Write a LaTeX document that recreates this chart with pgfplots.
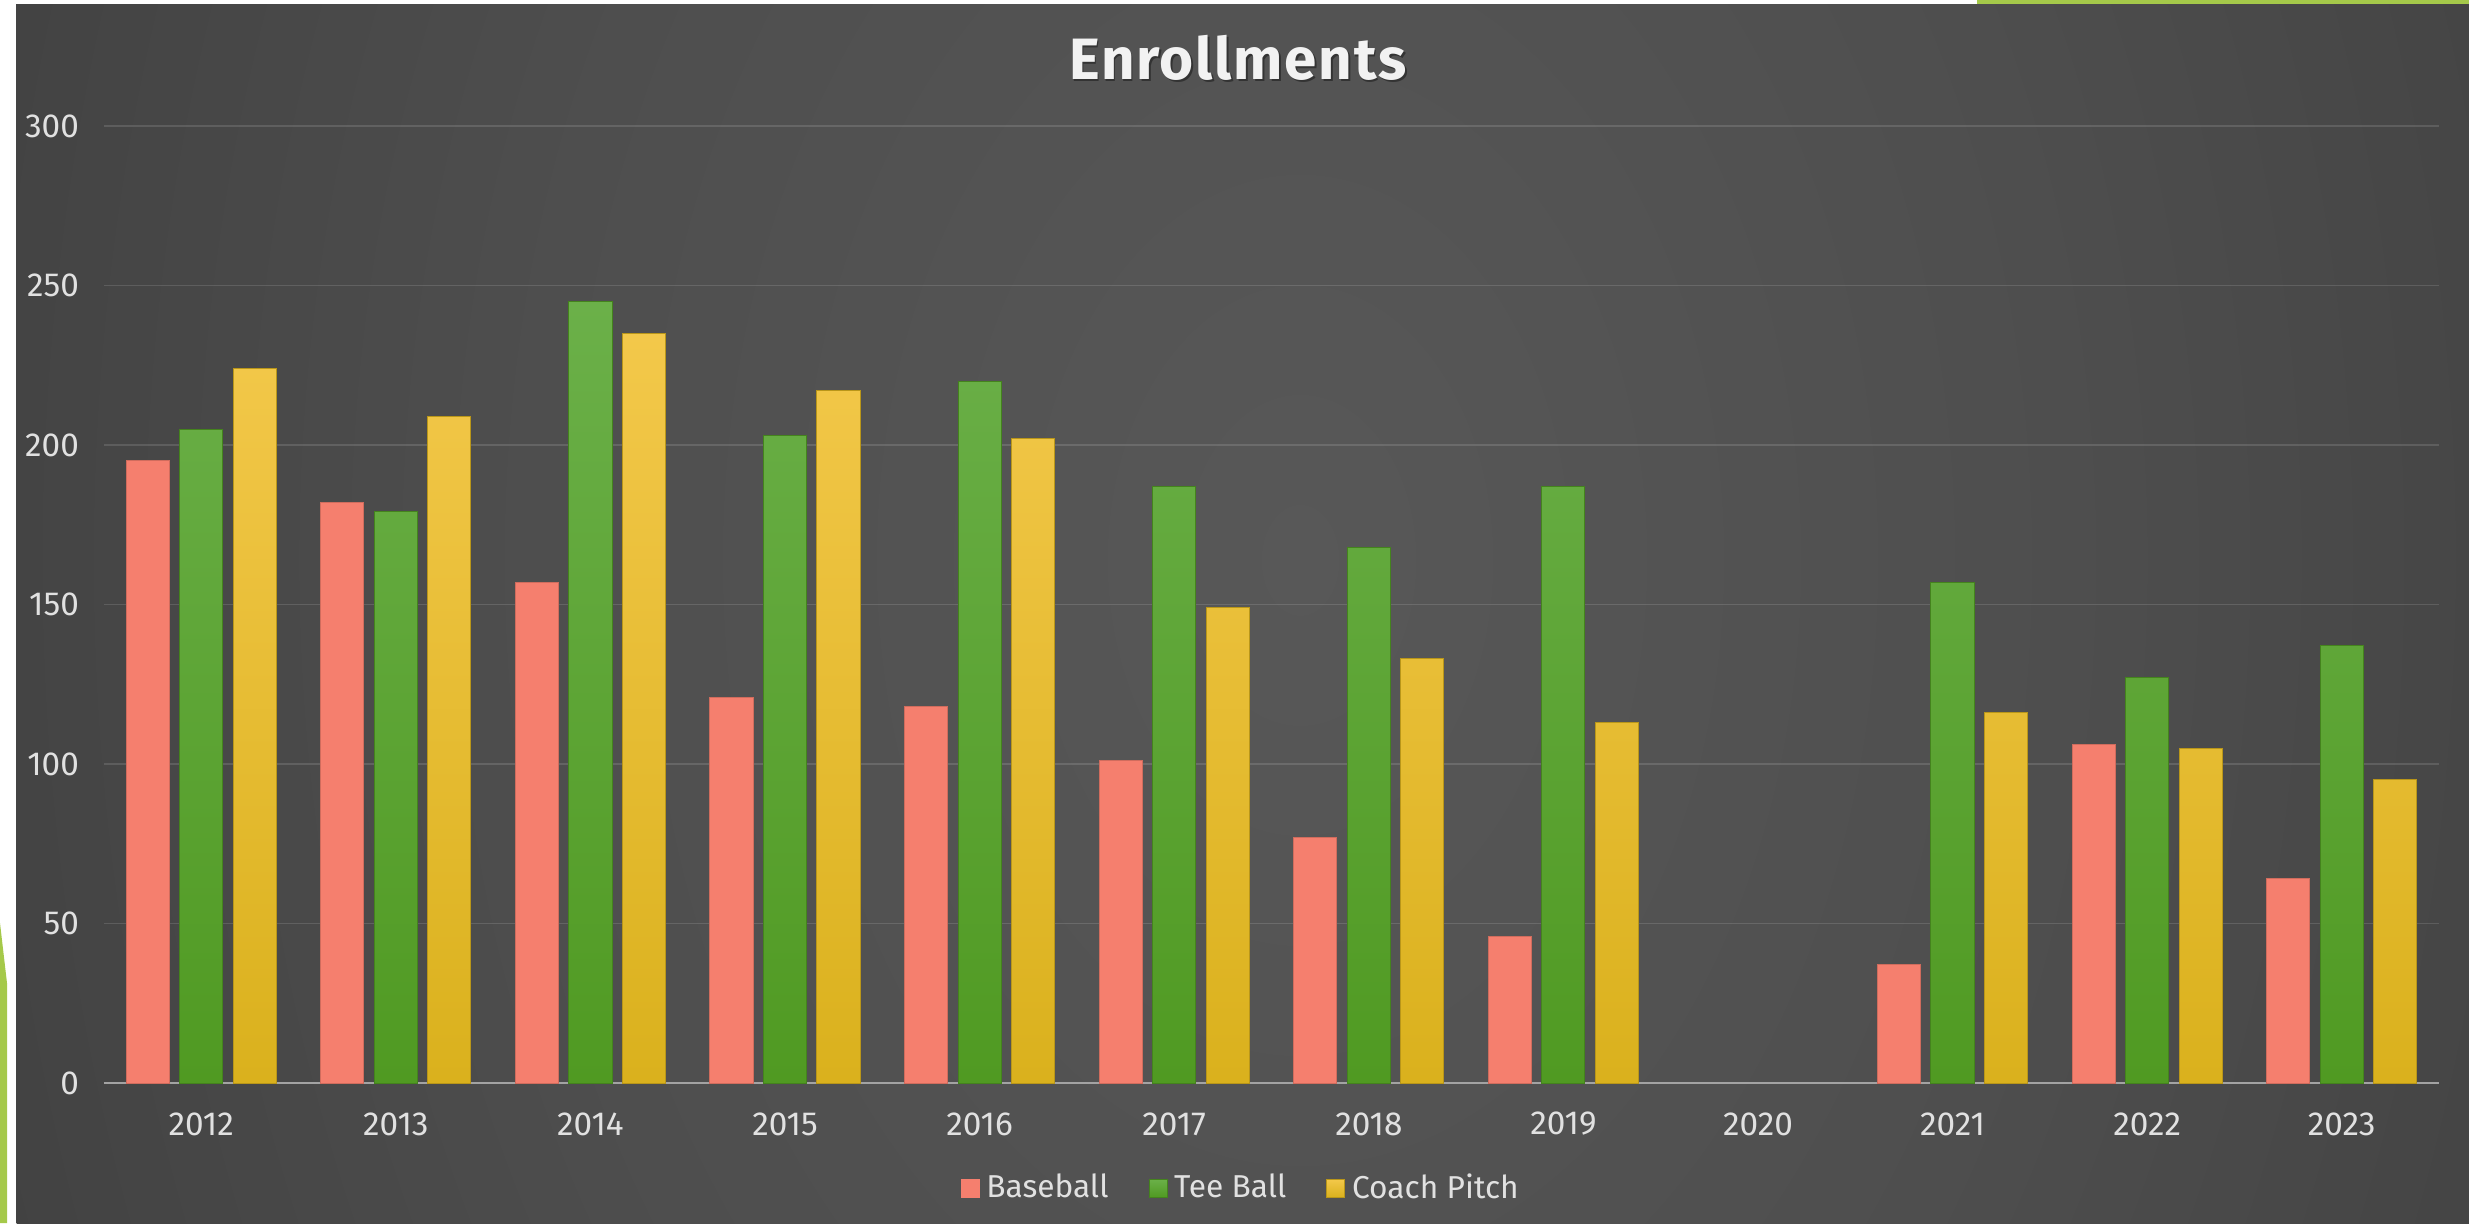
\documentclass[border=0pt]{standalone}
\usepackage{pgfplots}
\pgfplotsset{compat=1.18}
\usepackage{fontspec}
\setmainfont{Fira Sans}

% 1 px of the reference = 0.3pt
\definecolor{bgc0}{RGB}{88,88,88}
\definecolor{bgc1}{RGB}{78,78,78}
\definecolor{bgc2}{RGB}{68,68,68}
\definecolor{bgc3}{RGB}{57,57,57}
\definecolor{bgc4}{RGB}{48,48,48}
\definecolor{bgc5}{RGB}{42,42,42}
\definecolor{bgc6}{RGB}{38,38,38}
\pgfdeclareradialshading{slidebg}{\pgfpoint{0bp}{0bp}}{%
  color(0bp)=(bgc0); color(15bp)=(bgc1); color(25bp)=(bgc2);
  color(35bp)=(bgc3); color(45bp)=(bgc4); color(55bp)=(bgc5); color(71bp)=(bgc6)}
\definecolor{salmon}{RGB}{245,127,110}
\definecolor{greentop}{RGB}{107,176,73}
\definecolor{greenbot}{RGB}{80,154,34}
\definecolor{yeltop}{RGB}{243,200,74}
\definecolor{yelbot}{RGB}{218,177,29}
\definecolor{labelgray}{RGB}{225,225,225}
\definecolor{slidegreen}{RGB}{165,201,74}

\pgfplotstableread{
x baseball teeball coach
0 195 205 224
1 182 179 209
2 157 245 235
3 121 203 217
4 118 220 202
5 101 187 149
6 77  168 133
7 46  187 113
9 37  157 116
10 106 127 105
11 64  137 95
}\enroll

\begin{document}
\begin{tikzpicture}
% slide background: wide, tall ellipse, light in the middle
\begin{scope}
\clip (0,0) rectangle (740.7pt,366.9pt);
\shade[shading=slidebg] (5pt,-351.6pt) rectangle (775pt,749.4pt);
\end{scope}
\fill[white] (0,365.7pt) rectangle (740.7pt,366.9pt);
\fill[white] (0,72pt) rectangle (2.1pt,366.9pt);
\fill[slidegreen] (0,0) -- (2.1pt,0) -- (2.1pt,72pt) -- (0,90pt) -- cycle;
\fill[slidegreen] (593pt,365.7pt) rectangle (740.7pt,366.9pt);

\begin{axis}[
    at={(31.2pt,42pt)}, anchor=south west,
    scale only axis,
    width=700.5pt, height=287.1pt,
    xmin=-0.5, xmax=11.5,
    ymin=0, ymax=300,
    ybar, bar width=0.222,
    axis line style={draw=none},
    major tick length=0pt,
    xtick={0,...,11},
    xticklabels={2012,2013,2014,2015,2016,2017,2018,2019,2020,2021,2022,2023},
    ytick={50,100,...,300},
    extra y ticks={0},
    extra y tick style={grid style={draw=white!64!black, draw opacity=1, line width=0.65pt}},
    ymajorgrids,
    grid style={draw=white, draw opacity=0.13, line width=0.45pt},
    /pgf/number format/assume math mode=true,
    tick label style={font=\fontsize{10}{12}\selectfont, text=labelgray},
    xticklabel style={anchor=center, yshift=-12.3pt},
    yticklabel style={anchor=east, xshift=-4pt},
    legend style={at={(0.4878,-0.11)}, anchor=center, draw=none, fill=none,
        legend columns=-1, text=labelgray, font=\fontsize{9.5}{11}\selectfont,
        /tikz/every even column/.append style={column sep=10pt}},
]
\addplot[fill=salmon, draw=salmon!85!black, line width=0.3pt, bar shift=-0.275,
    legend image code/.code={\fill[salmon] (0pt,-2.7pt) rectangle (5.4pt,2.7pt);}]
    table[x=x, y=baseball] {\enroll};
\addplot[top color=greentop, bottom color=greenbot, draw=greenbot!85!black, line width=0.3pt, bar shift=0,
    legend image code/.code={\shade[top color=greentop, bottom color=greenbot] (0pt,-2.7pt) rectangle (5.4pt,2.7pt);}]
    table[x=x, y=teeball] {\enroll};
\addplot[top color=yeltop, bottom color=yelbot, draw=yelbot!85!black, line width=0.3pt, bar shift=0.275,
    legend image code/.code={\shade[top color=yeltop, bottom color=yelbot] (0pt,-2.7pt) rectangle (5.4pt,2.7pt);}]
    table[x=x, y=coach] {\enroll};
\legend{Baseball, Tee Ball, Coach Pitch}
\end{axis}

% title with a soft shadow
\node[text=black!85, opacity=0.7, font=\fontsize{17.5}{19}\selectfont\bfseries\addfontfeatures{LetterSpace=3}]
    at (371.9pt,349.0pt) {Enrollments};
\node[text=white!95!black, font=\fontsize{17.5}{19}\selectfont\bfseries\addfontfeatures{LetterSpace=3}]
    at (371.4pt,349.6pt) {Enrollments};
\end{tikzpicture}
\end{document}
